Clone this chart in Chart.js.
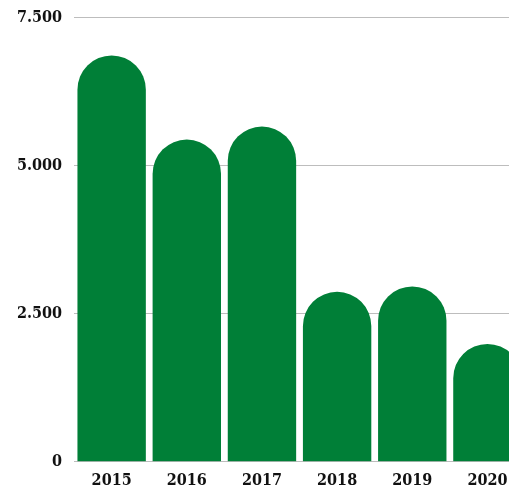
<!DOCTYPE html>
<html>
<head>
<meta charset="utf-8">
<script src="https://cdn.jsdelivr.net/npm/chart.js@4"></script>
<style>
  html, body { margin: 0; padding: 0; background: #fff; overflow: hidden; }
  #wrap { position: relative; width: 525px; height: 493px; margin-top: -4px; }
</style>
</head>
<body>
<div id="wrap"><canvas id="barChart"></canvas></div>
<script>
const years = ["2015", "2016", "2017", "2018", "2019", "2020"];
const totals = [6860, 5440, 5660, 2870, 2960, 1990];
const yTicks = [0, 2500, 5000, 7500];

const green = "#007f37";
const labelFont = { family: "'DejaVu Serif Condensed', 'DejaVu Serif', serif", size: 16, weight: "bold" };

// 7500 -> "7.500"
function formatThousands(v) {
    return String(v).replace(/\B(?=(\d{3})+(?!\d))/g, ".");
}

const ctx = document.getElementById("barChart").getContext("2d");
window.myChart = new Chart(ctx, {
    type: "bar",
    data: {
        labels: years,
        datasets: [{
            data: totals,
            backgroundColor: green,
            borderWidth: 0,
            borderSkipped: "bottom",
            borderRadius: { topLeft: 999, topRight: 999, bottomLeft: 0, bottomRight: 0 },
            barPercentage: 0.91,
            categoryPercentage: 1
        }]
    },
    options: {
        responsive: true,
        maintainAspectRatio: false,
        animation: false,
        layout: { padding: { top: -2, left: 5, right: 0, bottom: -10 } },
        plugins: {
            legend: { display: false },
            tooltip: { enabled: false }
        },
        scales: {
            x: {
                grid: { display: false, drawTicks: false },
                border: { display: false },
                ticks: { color: "#111", font: labelFont, padding: 9 }
            },
            y: {
                min: 0,
                max: 7500,
                afterBuildTicks: axis => { axis.ticks = yTicks.map(v => ({ value: v })); },
                grid: { color: "#bdbdbd", lineWidth: 1, drawTicks: false },
                border: { display: false },
                ticks: {
                    color: "#111",
                    font: labelFont,
                    padding: 12,
                    callback: v => formatThousands(v)
                }
            }
        }
    }
});
</script>
</body>
</html>
